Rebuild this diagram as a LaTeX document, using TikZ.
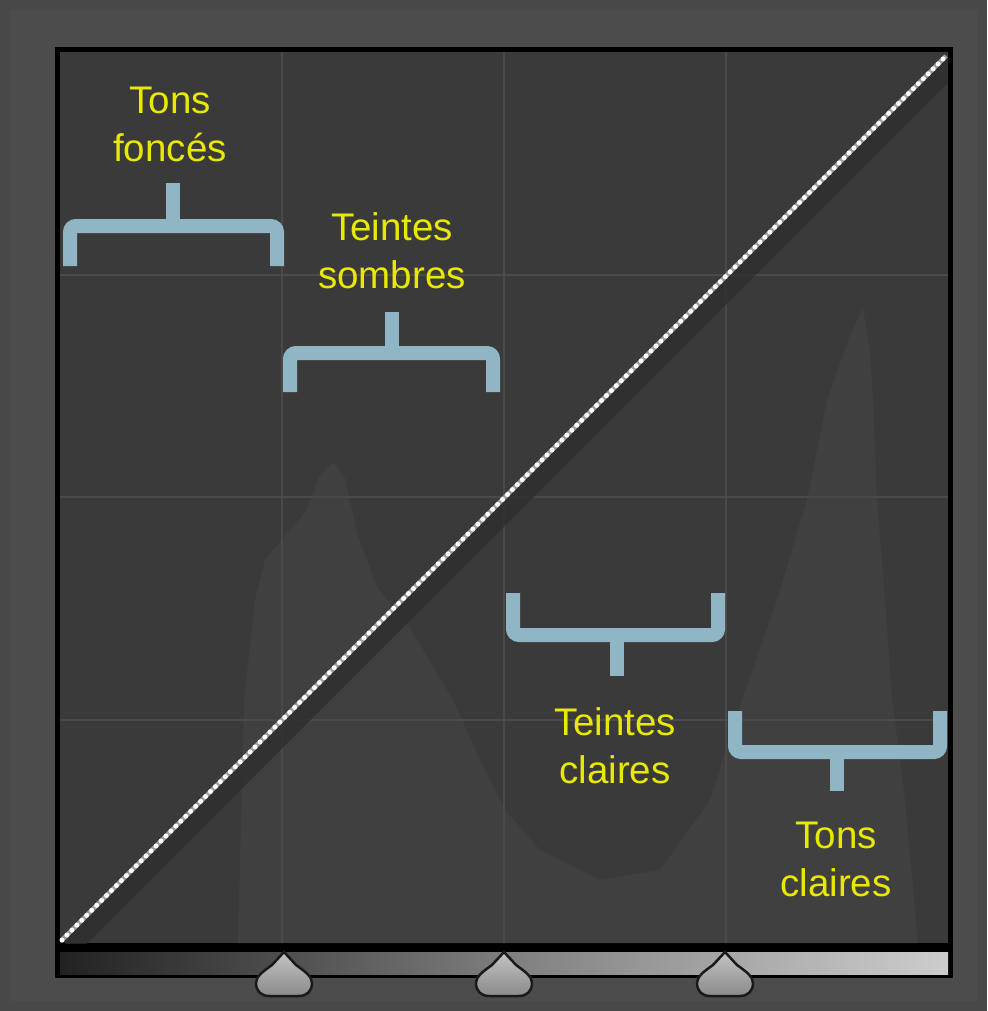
\documentclass[tikz,border=0pt]{standalone}
\usepackage{fontspec}
\setmainfont{Liberation Sans}
\usetikzlibrary{calc}
\definecolor{outerbg}{HTML}{484848}
\definecolor{panelbg}{HTML}{4C4C4C}
\definecolor{plotbg}{HTML}{3A3A3A}
\definecolor{histo}{HTML}{404040}
\definecolor{gridc}{HTML}{4A4A4A}
\definecolor{brk}{HTML}{90B6C5}
\definecolor{lblc}{HTML}{E8E800}
\definecolor{shadowc}{HTML}{2E2E2E}
\definecolor{knobtop}{HTML}{C4C4C4}
\definecolor{knobbot}{HTML}{8A8A8A}
\definecolor{knobline}{HTML}{1A1A1A}
\definecolor{barA}{HTML}{222222}
\definecolor{barB}{HTML}{4E4E4E}
\definecolor{barC}{HTML}{7E7E7E}
\definecolor{barD}{HTML}{A6A6A6}
\definecolor{barE}{HTML}{CDCDCD}
\tikzset{
  bracketline/.style={draw=brk, line width=14pt, rounded corners=6pt},
  lbl/.style={text=lblc, align=center, inner sep=0pt, font=\fontsize{38.5}{48}\selectfont},
  gridline/.style={draw=gridc, line width=1.5pt},
  sliderknob/.style={top color=knobtop, bottom color=knobbot, draw=knobline, line width=2.5pt},
}
\begin{document}
\begin{tikzpicture}[x=1pt,y=-1pt]
\useasboundingbox (0,0) rectangle (987,1011);
% background
\fill[outerbg] (0,0) rectangle (987,1011);
\fill[panelbg] (10,10) rectangle (977,1001);
% frame
\fill[black] (55,47) rectangle (953,978);
\fill[plotbg] (60,52) rectangle (948,943);
% histogram (faint)
\fill[histo] (238,943) -- (244,700) -- (255,600) -- (265,560) -- (290,530) -- (305,513) -- (320,475) -- (333,462)
  -- (345,478) -- (357,533) -- (377,587) -- (413,633) -- (453,700) -- (480,760) -- (505,810)
  -- (540,850) -- (600,880) -- (660,870) -- (710,800) -- (743,697) -- (777,600) -- (807,500)
  -- (827,400) -- (850,335) -- (863,308) -- (870,350) -- (873,400) -- (877,500) -- (885,600)
  -- (892,697) -- (905,800) -- (918,943) -- cycle;
% grid
\foreach \gx in {282,504,726} \draw[gridline] (\gx,52) -- (\gx,943);
\foreach \gy in {275,497,720} \draw[gridline] (60,\gy) -- (948,\gy);
% gradient bar
\shade[left color=barA, right color=barB] (60,952) rectangle (283,974);
\shade[left color=barB, right color=barC] (283,952) rectangle (505,974);
\shade[left color=barC, right color=barD] (505,952) rectangle (725,974);
\shade[left color=barD, right color=barE] (725,952) rectangle (948,974);
% diagonal curve
\coordinate (c0) at (62,940);
\coordinate (c1) at (946,56);
\begin{scope}
  \clip (60,52) rectangle (948,943);
  \draw[shadowc, line width=18pt, opacity=0.8] ($(c0)+(8,8)$) -- ($(c1)+(8,8)$);
\end{scope}
\draw[white!62!black, line width=4.5pt] (c0) -- (c1);
\draw[white, line width=5pt, line cap=round, dash pattern=on 0pt off 7pt] (c0) -- (c1);
% sliders
\foreach \sx in {284,504,725} {
  \begin{scope}[shift={(\sx,952)}]
    \filldraw[sliderknob] (0,0) -- (12,13) .. controls (22,20) and (28,25) .. (28,31)
      .. controls (28,39) and (23,44) .. (15,44) -- (-15,44)
      .. controls (-23,44) and (-28,39) .. (-28,31)
      .. controls (-28,25) and (-22,20) .. (-12,13) -- cycle;
  \end{scope}
}
% brackets
\draw[bracketline] (70,266) -- (70,226) -- (277,226) -- (277,266);
\draw[bracketline, rounded corners=0pt] (173,226) -- (173,183);
\draw[bracketline] (290,392) -- (290,353) -- (493,353) -- (493,392);
\draw[bracketline, rounded corners=0pt] (392,353) -- (392,312);
\draw[bracketline] (513,593) -- (513,635) -- (718,635) -- (718,593);
\draw[bracketline, rounded corners=0pt] (617,635) -- (617,676);
\draw[bracketline] (735,711) -- (735,752) -- (940,752) -- (940,711);
\draw[bracketline, rounded corners=0pt] (837,752) -- (837,791);
% labels
\node[lbl] (tf) at (170,124) {Tons\\foncés};
\node[lbl] (ts) at (392,251) {Teintes\\sombres};
\node[lbl] (tc) at (615,746) {Teintes\\claires};
\node[lbl] (tcl) at (836,859) {Tons\\claires};
\end{tikzpicture}
\end{document}
